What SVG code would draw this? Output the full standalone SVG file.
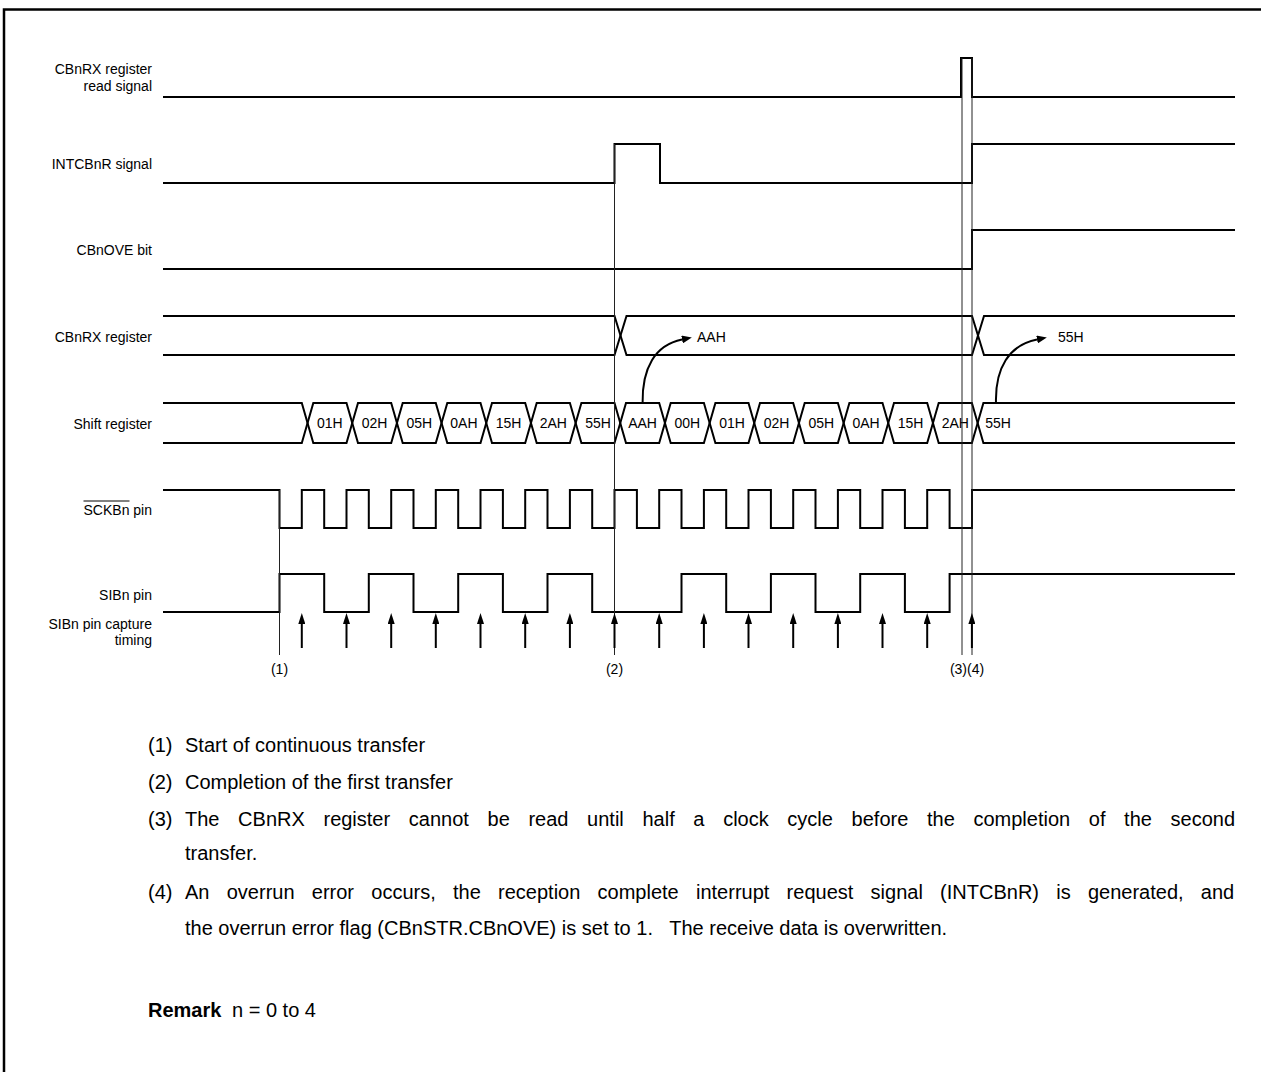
<svg xmlns="http://www.w3.org/2000/svg" width="1261" height="1072" viewBox="0 0 1261 1072">
<style>
.sig{fill:none;stroke:#000;stroke-width:2}
.mk{stroke:#222;stroke-width:1;fill:none}
.cap{stroke:#000;stroke-width:2;fill:none}
text{font-family:"Liberation Sans",Arial,Helvetica,sans-serif;fill:#000}
.lbl{font-size:14px;text-anchor:end}
.hx{font-size:14px;text-anchor:middle}
.val{font-size:14px}
.mkl{font-size:14px;text-anchor:middle}
.note{font-size:20px}
</style>
<defs>
<marker id="ah" viewBox="0 0 11 7" refX="0" refY="3.5" markerWidth="11" markerHeight="7" markerUnits="userSpaceOnUse" orient="auto"><path d="M0,0 L11,3.5 L0,7 z" fill="#000"/></marker>
<marker id="ah2" viewBox="0 0 10 8" refX="0" refY="4" markerWidth="10" markerHeight="8" markerUnits="userSpaceOnUse" orient="auto"><path d="M0,0 L10,4 L0,8 z" fill="#000"/></marker>
</defs>
<path d="M4,1072 V9.5 H1261" fill="none" stroke="#000" stroke-width="2.5"/>

<g id="labels">
<text class="lbl" x="152" y="74">CBnRX register</text>
<text class="lbl" x="152" y="91">read signal</text>
<text class="lbl" x="152" y="169">INTCBnR signal</text>
<text class="lbl" x="152" y="255">CBnOVE bit</text>
<text class="lbl" x="152" y="342">CBnRX register</text>
<text class="lbl" x="152" y="429">Shift register</text>
<text class="lbl" x="152" y="515">SCKBn pin</text>
<line x1="83.5" y1="501" x2="129.5" y2="501" stroke="#000" stroke-width="1"/>
<text class="lbl" x="152" y="600">SIBn pin</text>
<text class="lbl" x="152" y="629">SIBn pin capture</text>
<text class="lbl" x="152" y="645">timing</text>
</g>

<g id="read-signal"><path class="sig" d="M163,97 H961 V58 H972 V97 H1235"/></g>
<g id="intcbnr"><path class="sig" d="M163,183 H614.5 V144 H660 V183 H972 V144 H1235"/></g>
<g id="cbnove"><path class="sig" d="M163,269 H972 V230 H1235"/></g>
<g id="cbnrx">
<path class="sig" d="M163,316 H614.5 L626.5,355 H972 L984,316 H1235"/>
<path class="sig" d="M163,355 H614.5 L626.5,316 H972 L984,355 H1235"/>
<text class="val" x="697" y="342">AAH</text>
<text class="val" x="1058" y="342">55H</text>
</g>
<g id="shift">
<path class="sig" d="M163,403 H301.8 L313.3,443 H346.5 L358,403 H391.2 L402.7,443 H435.8 L447.3,403 H480.5 L492,443 H525.2 L536.7,403 H569.9 L581.4,443 H614.5 L626,403 H659.2 L670.7,443 H703.9 L715.4,403 H748.5 L760,443 H793.2 L804.7,403 H837.9 L849.4,443 H882.5 L894,403 H927.2 L938.7,443 H971.9 L983.4,403 H1235"/>
<path class="sig" d="M163,443 H301.8 L313.3,403 H346.5 L358,443 H391.2 L402.7,403 H435.8 L447.3,443 H480.5 L492,403 H525.2 L536.7,443 H569.9 L581.4,403 H614.5 L626,443 H659.2 L670.7,403 H703.9 L715.4,443 H748.5 L760,403 H793.2 L804.7,443 H837.9 L849.4,403 H882.5 L894,443 H927.2 L938.7,403 H971.9 L983.4,443 H1235"/>
<text class="hx" x="329.9" y="428">01H</text>
<text class="hx" x="374.6" y="428">02H</text>
<text class="hx" x="419.3" y="428">05H</text>
<text class="hx" x="463.9" y="428">0AH</text>
<text class="hx" x="508.6" y="428">15H</text>
<text class="hx" x="553.3" y="428">2AH</text>
<text class="hx" x="598" y="428">55H</text>
<text class="hx" x="642.6" y="428">AAH</text>
<text class="hx" x="687.3" y="428">00H</text>
<text class="hx" x="732" y="428">01H</text>
<text class="hx" x="776.6" y="428">02H</text>
<text class="hx" x="821.3" y="428">05H</text>
<text class="hx" x="866" y="428">0AH</text>
<text class="hx" x="910.6" y="428">15H</text>
<text class="hx" x="955.3" y="428">2AH</text>
<text class="hx" x="998" y="428">55H</text>
</g>
<g id="sckbn"><path class="sig" d="M163,490 H279.5 V528 H301.8 V490 H324.2 V528 H346.5 V490 H368.8 V528 H391.2 V490 H413.5 V528 H435.8 V490 H458.2 V528 H480.5 V490 H502.9 V528 H525.2 V490 H547.5 V528 H569.9 V490 H592.2 V528 H614.5 V490 H636.9 V528 H659.2 V490 H681.5 V528 H703.9 V490 H726.2 V528 H748.5 V490 H770.9 V528 H793.2 V490 H815.5 V528 H837.9 V490 H860.2 V528 H882.5 V490 H904.9 V528 H927.2 V490 H949.6 V528 H972 V490 H1235"/></g>
<g id="sibn"><path class="sig" d="M163,612 H279.5 V574 H324.2 V612 H368.8 V574 H413.5 V612 H458.2 V574 H502.9 V612 H547.5 V574 H592.2 V612 H681.5 V574 H726.2 V612 H770.9 V574 H815.5 V612 H860.2 V574 H904.9 V612 H949.6 V574 H1235"/></g>

<g id="connectors">
<path class="cap" marker-end="url(#ah2)" d="M642.6,403 C642,368 655,345 682,339.5"/>
<path class="cap" marker-end="url(#ah2)" d="M996,403 C995,368 1009,345 1037,339.5"/>
<line class="mk" x1="279.5" y1="490" x2="279.5" y2="655"/>
<line class="mk" x1="614.5" y1="144" x2="614.5" y2="655"/>
<line class="mk" x1="962" y1="58" x2="962" y2="655"/>
<line class="mk" x1="972" y1="58" x2="972" y2="655"/>
<g marker-end="url(#ah)">
<line class="cap" x1="301.8" y1="648" x2="301.8" y2="624"/>
<line class="cap" x1="346.5" y1="648" x2="346.5" y2="624"/>
<line class="cap" x1="391.2" y1="648" x2="391.2" y2="624"/>
<line class="cap" x1="435.8" y1="648" x2="435.8" y2="624"/>
<line class="cap" x1="480.5" y1="648" x2="480.5" y2="624"/>
<line class="cap" x1="525.2" y1="648" x2="525.2" y2="624"/>
<line class="cap" x1="569.9" y1="648" x2="569.9" y2="624"/>
<line class="cap" x1="614.5" y1="648" x2="614.5" y2="624"/>
<line class="cap" x1="659.2" y1="648" x2="659.2" y2="624"/>
<line class="cap" x1="703.9" y1="648" x2="703.9" y2="624"/>
<line class="cap" x1="748.5" y1="648" x2="748.5" y2="624"/>
<line class="cap" x1="793.2" y1="648" x2="793.2" y2="624"/>
<line class="cap" x1="837.9" y1="648" x2="837.9" y2="624"/>
<line class="cap" x1="882.5" y1="648" x2="882.5" y2="624"/>
<line class="cap" x1="927.2" y1="648" x2="927.2" y2="624"/>
<line class="cap" x1="971.9" y1="648" x2="971.9" y2="624"/>
</g>
</g>

<g id="markers">
<text class="mkl" x="279.5" y="674">(1)</text>
<text class="mkl" x="614.5" y="674">(2)</text>
<text class="mkl" x="967" y="674">(3)(4)</text>
</g>

<g id="notes">
<text class="note" x="148" y="752">(1)</text>
<text class="note" x="185" y="752">Start of continuous transfer</text>
<text class="note" x="148" y="789">(2)</text>
<text class="note" x="185" y="789">Completion of the first transfer</text>
<text class="note" x="148" y="826">(3)</text>
<text class="note" x="185" y="826" word-spacing="13.1">The CBnRX register cannot be read until half a clock cycle before the completion of the second</text>
<text class="note" x="185" y="860">transfer.</text>
<text class="note" x="148" y="899">(4)</text>
<text class="note" x="185" y="899" word-spacing="11.7">An overrun error occurs, the reception complete interrupt request signal (INTCBnR) is generated, and</text>
<text class="note" x="185" y="935" xml:space="preserve">the overrun error flag (CBnSTR.CBnOVE) is set to 1.   The receive data is overwritten.</text>
<text class="note" x="148" y="1017"><tspan font-weight="bold">Remark</tspan><tspan x="232">n = 0 to 4</tspan></text>
</g>
</svg>
